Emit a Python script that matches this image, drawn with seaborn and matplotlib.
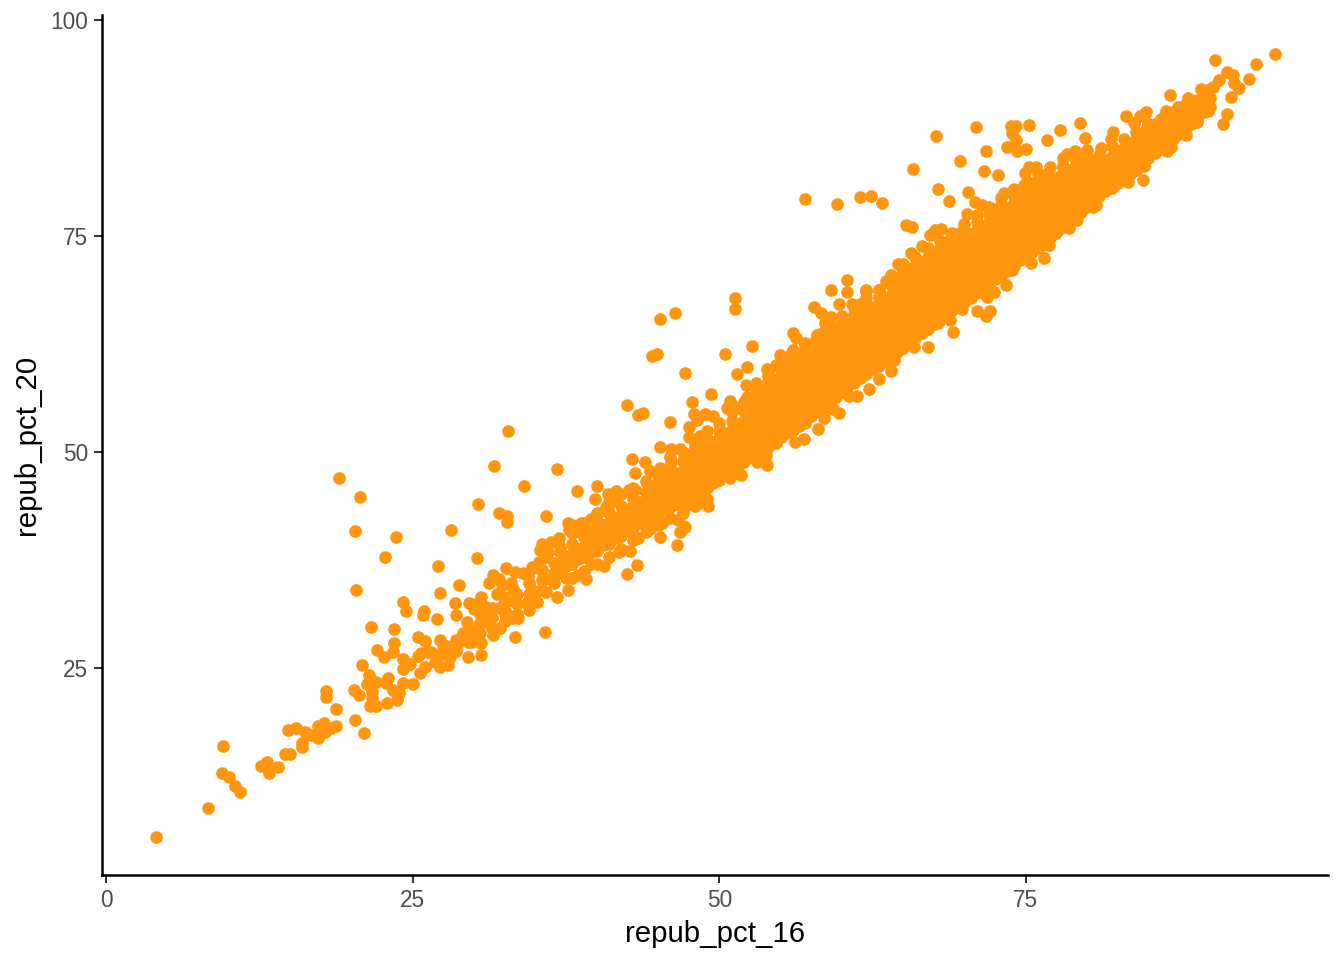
import pandas as pd
import matplotlib
matplotlib.use('Agg')
import matplotlib.pyplot as plt
import seaborn as sns

#------------------------------------------------------------------------------------------------------------------------------
# values, sparse tail first, then the upper/lower fringes, then the dense band

low_16 = [4.08, 8.3, 9.56, 9.4, 10.0, 10.5, 10.87, 12.6, 13.1, 13.25, 14.0, 14.6, 15.0, 14.85, 15.5, 16.0, 16.0, 16.2, 16.7,
          17.3, 17.3, 17.75, 17.8, 18.35, 18.75, 17.9, 17.95, 18.7, 20.3, 21.0, 20.2, 20.65, 20.85, 21.4, 21.3, 22.0, 21.7,
          21.7, 21.55, 22.0, 22.9, 23.7, 23.9, 23.0, 23.4, 22.8, 24.2, 25.0, 22.1, 22.65, 23.4, 23.5, 23.5, 21.6, 20.4,
          22.75, 20.3, 23.6, 20.7, 19.0, 28.1, 30.3, 31.65, 34.1, 32.05, 32.65, 32.65, 35.85, 35.8, 33.3, 30.2, 27.05,
          28.75, 27.25, 28.45, 28.5, 27.0, 25.9, 25.85, 24.2, 24.45, 25.45, 26.0, 27.25, 24.2, 24.2, 24.75, 25.7, 26.2,
          25.55, 26.0, 25.4, 27.2, 27.9, 26.85, 27.2, 28.0, 27.7, 28.7, 29.1, 29.5, 30.6, 29.45, 29.6, 29.85, 30.1, 30.6,
          31.55, 32.15, 31.0, 31.1, 29.6, 30.0, 30.6, 30.3, 31.0, 31.55, 32.0, 31.25, 32.6, 33.35, 32.3, 33.15, 31.85,
          32.4, 33.2, 32.1, 32.5, 33.15, 33.6, 34.45, 34.3, 35.1, 34.7, 34.85, 34.4, 34.8, 35.3, 35.55, 35.4, 35.75, 35.9,
          26.5, 27.5, 28.5, 28.5, 29.5, 29.5, 30.5, 30.5, 30.5, 31.5, 31.5, 31.5, 32.5, 32.5, 32.5, 33.5, 33.5, 33.5,
          34.5, 34.5, 34.5, 35.5, 35.5, 35.5, 36.5, 36.5, 36.5, 37.5, 33.0, 34.0, 36.0, 37.0, 38.0, 39.0, 40.0, 41.0, 38.5, 39.5]
low_20 = [5.47, 8.8, 16.0, 12.8, 12.35, 11.3, 10.7, 13.65, 14.15, 12.8, 13.6, 15.05, 15.0, 17.8, 18.0, 15.9, 16.3, 17.6, 17.2,
          16.85, 18.3, 18.6, 17.6, 18.0, 18.3, 22.3, 21.7, 20.25, 19.0, 17.5, 22.4, 21.85, 25.3, 24.2, 23.2, 23.4, 22.25,
          21.5, 20.6, 20.6, 21.0, 21.3, 22.15, 23.8, 22.45, 23.3, 23.3, 23.2, 27.05, 26.3, 26.9, 27.9, 29.5, 29.7, 34.05,
          37.85, 40.9, 40.2, 44.85, 47.05, 41.0, 44.0, 48.4, 46.05, 43.0, 42.65, 41.85, 42.65, 29.2, 28.6, 37.75, 36.8,
          34.6, 33.65, 32.55, 31.1, 30.7, 31.6, 31.1, 32.6, 31.65, 28.6, 28.1, 28.2, 26.05, 24.85, 25.45, 26.7, 26.9,
          24.4, 25.15, 26.35, 25.15, 25.35, 25.7, 26.5, 26.3, 27.5, 27.85, 29.0, 26.3, 26.5, 30.35, 29.0, 28.0, 29.4, 27.95,
          28.8, 29.6, 30.3, 31.05, 32.55, 31.8, 33.2, 32.5, 32.1, 35.75, 35.3, 34.8, 36.55, 36.15, 34.6, 34.1, 33.6,
          33.2, 32.8, 32.0, 31.3, 30.75, 30.75, 31.7, 32.5, 32.65, 34.05, 33.5, 35.7, 36.6, 37.3, 39.4, 38.7, 35.35, 33.8,
          26.8, 27.2, 27.0, 28.2, 28.0, 29.2, 29.0, 30.2, 31.2, 29.6, 30.8, 32.0, 30.4, 31.6, 32.8, 31.2, 32.4, 33.6,
          32.4, 33.6, 34.8, 34.0, 35.2, 36.4, 34.8, 36.0, 37.2, 35.4, 34.8, 36.0, 38.4, 39.0, 40.6, 41.4, 43.0, 44.0, 35.8, 37.0]

mid_16 = [51.3, 51.3, 46.4, 45.2, 52.7, 50.45, 44.9, 44.5, 47.2, 52.3, 51.45, 52.2, 49.35, 47.8, 42.45, 43.8, 43.4, 45.95,
          50.9, 50.6, 51.3, 47.95, 48.2, 48.8, 49.5, 47.5, 47.5, 48.45, 45.2, 46.05, 46.8, 42.9, 43.95, 43.1, 44.35, 45.2,
          46.1, 36.8, 32.8, 40.0, 38.4, 39.9, 40.9, 41.6, 42.6, 43.15, 44.1, 37.7, 37.75, 38.7, 39.75, 40.8, 38.65, 36.95,
          36.3, 35.5, 35.9, 34.75, 40.6, 42.5, 43.25, 39.1, 37.65, 36.75, 42.7, 41.85, 43.4, 44.35, 45.35, 45.2, 46.55,
          46.8, 47.2, 46.65, 49.1, 48.45, 47.1, 51.8, 50.9, 49.8, 49.1, 53.9, 53.1, 53.85, 54.65, 56.2, 56.9, 58.05, 58.5,
          59.8, 59.3, 60.6, 61.25, 62.25, 63.0, 64.0, 64.25, 59.1, 60.4, 60.4, 59.8, 57.7, 58.3, 59.15, 58.65, 62.0, 63.0,
          60.8, 61.5, 56.05, 56.25, 57.0, 54.95, 55.8, 56.7, 57.85, 58.4, 59.7, 53.9, 54.6, 53.05, 52.25]
mid_20 = [67.8, 66.6, 66.1, 65.4, 62.3, 61.4, 61.3, 61.1, 59.15, 59.85, 59.0, 57.8, 56.7, 55.8, 55.5, 54.55, 54.25, 53.45,
          55.95, 55.05, 55.25, 54.45, 53.7, 54.45, 54.2, 52.85, 51.8, 51.85, 50.6, 50.35, 50.4, 49.2, 48.85, 47.55, 47.85, 48.1,
          48.8, 48.05, 52.45, 46.05, 45.5, 44.6, 45.2, 45.5, 45.6, 45.6, 46.35, 41.75, 41.0, 41.75, 42.3, 43.65, 40.75, 40.0,
          39.6, 38.65, 37.9, 36.75, 36.8, 35.9, 36.9, 35.25, 34.05, 33.2, 38.55, 38.45, 40.0, 41.05, 41.75, 40.2, 39.25,
          40.7, 41.3, 42.15, 43.75, 44.15, 43.5, 47.3, 47.0, 46.6, 46.05, 48.5, 48.8, 49.65, 51.0, 51.2, 51.55, 52.65, 54.0,
          54.55, 55.0, 56.5, 56.5, 57.35, 58.5, 59.35, 60.65, 68.8, 68.5, 69.9, 67.1, 66.85, 66.05, 65.6, 64.95, 68.75, 68.75,
          67.1, 67.2, 63.8, 63.15, 62.4, 61.2, 61.2, 61.2, 63.05, 63.75, 64.35, 59.65, 60.05, 57.35, 56.4]

high_16 = [95.3, 93.75, 90.45, 93.2, 92.4, 91.9, 91.4, 91.75, 91.4, 91.05, 92.0, 90.8, 90.25, 89.3, 89.85, 89.9, 89.85, 88.2,
           89.0, 86.75, 86.45, 87.4, 88.35, 89.0, 88.05, 86.0, 86.85, 86.55, 85.75, 84.8, 84.35, 83.15, 83.85, 84.9, 86.0,
           87.4, 84.55, 84.65, 84.8, 83.3, 81.8, 80.45, 80.7, 78.55, 79.2, 77.6, 76.9, 76.35, 76.5, 75.45, 73.9, 73.4, 72.4,
           71.85, 71.05, 72.1, 71.75, 70.5, 69.8, 68.8, 69.1, 67.8, 66.75, 65.6, 67.05, 65.9,
           70.95, 67.7, 65.8, 69.6, 71.75, 71.6, 72.75, 73.8, 74.2, 75.3, 73.9, 74.2, 73.5, 74.3, 75.0, 76.7, 77.75, 79.4,
           79.8, 78.4, 79.9, 81.1, 82.15, 81.95, 75.8, 75.3, 74.9, 78.0, 77.6, 76.4, 74.85, 75.5, 73.2, 73.9, 67.8, 70.3,
           68.75, 70.85, 71.45, 72.25, 70.2, 62.4, 63.25, 61.5, 57.0, 59.6, 65.25, 65.7, 68.05, 67.6, 67.2, 68.05, 66.55,
           65.65, 64.55, 64.0, 63.6, 63.0, 62.0, 68.9, 69.7]
high_20 = [96.1, 94.9, 95.4, 93.2, 92.1, 93.65, 94.0, 91.1, 89.15, 88.0, 92.7, 93.05, 92.3, 92.0, 91.1, 89.5, 90.0, 90.95,
           90.35, 91.3, 89.5, 90.0, 89.6, 88.25, 86.7, 88.6, 85.35, 84.8, 85.0, 89.4, 88.85, 88.95, 88.05, 87.65, 86.9,
           87.3, 81.45, 83.1, 84.2, 81.3, 80.75, 78.4, 78.6, 75.9, 76.85, 75.7, 74.0, 74.0, 72.5, 71.85, 71.05, 69.3, 68.55,
           68.0, 66.35, 66.35, 65.8, 67.8, 66.6, 65.3, 63.85, 64.9, 64.2, 63.35, 62.2, 62.2,
           87.6, 86.65, 82.75, 83.7, 84.85, 82.55, 82.05, 87.75, 87.7, 87.85, 86.9, 86.1, 85.35, 84.8, 85.05, 86.15, 87.3, 88.05,
           86.4, 84.5, 84.75, 85.2, 87.1, 86.3, 83.0, 83.0, 82.35, 83.15, 81.9, 82.05, 80.9, 81.1, 80.05, 80.15, 80.5, 80.1,
           79.1, 79.0, 78.6, 78.1, 77.6, 79.7, 78.8, 79.55, 79.3, 78.7, 76.3, 76.0, 75.8, 75.7, 75.1, 74.35, 73.8,
           73.0, 71.75, 70.5, 69.8, 68.8, 68.65, 74.95, 75.5]

core_16 = [37, 37, 37, 38, 38, 38, 39, 39, 39, 40, 40, 40, 40, 41, 41, 41, 41, 42, 42, 42, 42, 43, 43, 43, 43, 44, 44, 44, 44,
           45, 45, 45, 45, 45, 46, 46, 46, 46, 46, 47, 47, 47, 47, 47, 48, 48, 48, 48, 48, 48, 49, 49, 49, 49, 49, 49,
           50, 50, 50, 50, 50, 50, 51, 51, 51, 51, 51, 51, 52, 52, 52, 52, 52, 52, 53, 53, 53, 53, 53, 53, 53,
           54, 54, 54, 54, 54, 54, 54, 54, 55, 55, 55, 55, 55, 55, 55, 55, 56, 56, 56, 56, 56, 56, 56, 56,
           57, 57, 57, 57, 57, 57, 57, 57, 58, 58, 58, 58, 58, 58, 58, 58, 59, 59, 59, 59, 59, 59, 59, 59,
           60, 60, 60, 60, 60, 60, 60, 60, 61, 61, 61, 61, 61, 61, 61, 61, 62, 62, 62, 62, 62, 62, 62, 62,
           63, 63, 63, 63, 63, 63, 63, 63, 64, 64, 64, 64, 64, 64, 64, 64, 64, 65, 65, 65, 65, 65, 65, 65, 65, 65,
           66, 66, 66, 66, 66, 66, 66, 66, 67, 67, 67, 67, 67, 67, 67, 67, 68, 68, 68, 68, 68, 68, 68, 68,
           69, 69, 69, 69, 69, 69, 69, 69, 70, 70, 70, 70, 70, 70, 70, 70, 71, 71, 71, 71, 71, 71, 71, 71,
           72, 72, 72, 72, 72, 72, 72, 72, 73, 73, 73, 73, 73, 73, 73, 73, 74, 74, 74, 74, 74, 74, 74, 74,
           75, 75, 75, 75, 75, 75, 75, 75, 76, 76, 76, 76, 76, 76, 76, 76, 77, 77, 77, 77, 77, 77, 77,
           78, 78, 78, 78, 78, 78, 78, 79, 79, 79, 79, 79, 79, 79, 80, 80, 80, 80, 80, 80, 81, 81, 81, 81, 81,
           82, 82, 82, 82, 82, 83, 83, 83, 83, 83, 84, 84, 84, 84, 84, 85, 85, 85, 85, 85, 86, 86, 86, 86,
           87, 87, 87, 87, 88, 88, 88, 88, 89, 89, 89, 90, 90, 90]
core_20 = [36, 37.2, 38.4, 37, 38.2, 39.4, 37.8, 39, 40.2, 38.6, 39.8, 41, 42, 39.4, 40.6, 41.8, 43, 40.3, 41.5, 42.7, 43.8,
           41.2, 42.4, 43.6, 44.6, 42, 43.2, 44.4, 45.4,
           42.8, 44, 45.2, 46.4, 47.2, 43.6, 44.8, 46, 47.2, 48.2, 44.2, 45.4, 46.6, 47.8, 49, 45, 46.2, 47.4, 48.6, 49.8, 50.6,
           45.8, 47, 48.2, 49.4, 50.6, 51.4,
           46.8, 48, 49.2, 50.4, 51.6, 52.6, 47.8, 49, 50.2, 51.4, 52.6, 53.6, 48.8, 50, 51.2, 52.4, 53.6, 54.8,
           50, 51.2, 52.4, 53.6, 54.8, 56, 57,
           50.6, 51.8, 53, 54.2, 55.4, 56.6, 57.8, 58.8, 51.8, 53, 54.2, 55.4, 56.6, 57.8, 59, 60, 52.6, 53.8, 55, 56.2, 57.4, 58.6, 59.8, 61,
           53.4, 54.6, 55.8, 57, 58.2, 59.4, 60.6, 61.8, 54.8, 56, 57.2, 58.4, 59.6, 60.8, 62, 62.8, 55.6, 56.8, 58, 59.2, 60.4, 61.6, 62.8, 63.8,
           57, 58.2, 59.4, 60.6, 61.8, 63, 64.2, 65, 58, 59.2, 60.4, 61.6, 62.8, 64, 65.2, 66, 59, 60.2, 61.4, 62.6, 63.8, 65, 66.2, 67,
           60, 61.2, 62.4, 63.6, 64.8, 66, 67.2, 68, 61, 62.2, 63.4, 64.6, 65.8, 67, 68.2, 69.4, 70, 62, 63.2, 64.4, 65.6, 66.8, 68, 69.2, 70.4, 71,
           63.2, 64.4, 65.6, 66.8, 68, 69.2, 70.4, 71.6, 64.2, 65.4, 66.6, 67.8, 69, 70.2, 71.4, 72.6, 65.4, 66.6, 67.8, 69, 70.2, 71.4, 72.6, 73.6,
           66.4, 67.6, 68.8, 70, 71.2, 72.4, 73.6, 74.6, 67.4, 68.6, 69.8, 71, 72.2, 73.4, 74.6, 75.6, 68.4, 69.6, 70.8, 72, 73.2, 74.4, 75.6, 76.6,
           69.4, 70.6, 71.8, 73, 74.2, 75.4, 76.6, 77.6, 70.4, 71.6, 72.8, 74, 75.2, 76.4, 77.6, 78.6, 71.6, 72.8, 74, 75.2, 76.4, 77.6, 78.8, 79.6,
           72.6, 73.8, 75, 76.2, 77.4, 78.6, 79.8, 80.4, 73.6, 74.8, 76, 77.2, 78.4, 79.6, 80.8, 81.4, 74.8, 76, 77.2, 78.4, 79.6, 80.8, 82,
           76, 77.2, 78.4, 79.6, 80.8, 82, 83, 77, 78.2, 79.4, 80.6, 81.8, 83, 84, 78.4, 79.6, 80.8, 82, 83.2, 84.2, 79.6, 80.8, 82, 83.2, 84.4,
           80.6, 81.8, 83, 84.2, 85.4, 81.6, 82.8, 84, 85.2, 86.2, 82.6, 83.8, 85, 86.2, 87, 84, 85.2, 86.4, 87.4, 88, 85.2, 86.4, 87.6, 88.6,
           86.2, 87.4, 88.6, 89.4, 87.4, 88.6, 89.6, 90.2, 88.6, 89.8, 90.8, 90, 91, 92]

# the same band again, half a point over, the counties between the columns above
between_16 = [37.5, 37.5, 38.5, 38.5, 39.5, 39.5, 39.5, 40.5, 40.5, 40.5, 41.5, 41.5, 41.5, 42.5, 42.5, 42.5, 43.5, 43.5, 43.5,
              44.5, 44.5, 44.5, 44.5, 45.5, 45.5, 45.5, 45.5, 46.5, 46.5, 46.5, 46.5, 47.5, 47.5, 47.5, 47.5, 47.5,
              48.5, 48.5, 48.5, 48.5, 48.5, 49.5, 49.5, 49.5, 49.5, 49.5, 50.5, 50.5, 50.5, 50.5, 50.5, 51.5, 51.5, 51.5, 51.5, 51.5,
              52.5, 52.5, 52.5, 52.5, 52.5, 52.5, 53.5, 53.5, 53.5, 53.5, 53.5, 53.5, 53.5, 54.5, 54.5, 54.5, 54.5, 54.5, 54.5, 54.5,
              55.5, 55.5, 55.5, 55.5, 55.5, 55.5, 55.5, 55.5, 56.5, 56.5, 56.5, 56.5, 56.5, 56.5, 56.5, 56.5,
              57.5, 57.5, 57.5, 57.5, 57.5, 57.5, 57.5, 58.5, 58.5, 58.5, 58.5, 58.5, 58.5, 58.5, 59.5, 59.5, 59.5, 59.5, 59.5, 59.5, 59.5,
              60.5, 60.5, 60.5, 60.5, 60.5, 60.5, 60.5, 61.5, 61.5, 61.5, 61.5, 61.5, 61.5, 61.5, 62.5, 62.5, 62.5, 62.5, 62.5, 62.5, 62.5,
              63.5, 63.5, 63.5, 63.5, 63.5, 63.5, 63.5, 64.5, 64.5, 64.5, 64.5, 64.5, 64.5, 64.5, 64.5, 65.5, 65.5, 65.5, 65.5, 65.5, 65.5, 65.5, 65.5,
              66.5, 66.5, 66.5, 66.5, 66.5, 66.5, 66.5, 66.5, 67.5, 67.5, 67.5, 67.5, 67.5, 67.5, 67.5, 67.5,
              68.5, 68.5, 68.5, 68.5, 68.5, 68.5, 68.5, 69.5, 69.5, 69.5, 69.5, 69.5, 69.5, 69.5, 70.5, 70.5, 70.5, 70.5, 70.5, 70.5, 70.5,
              71.5, 71.5, 71.5, 71.5, 71.5, 71.5, 71.5, 72.5, 72.5, 72.5, 72.5, 72.5, 72.5, 72.5, 73.5, 73.5, 73.5, 73.5, 73.5, 73.5, 73.5,
              74.5, 74.5, 74.5, 74.5, 74.5, 74.5, 74.5, 75.5, 75.5, 75.5, 75.5, 75.5, 75.5, 75.5, 76.5, 76.5, 76.5, 76.5, 76.5, 76.5, 76.5,
              77.5, 77.5, 77.5, 77.5, 77.5, 77.5, 78.5, 78.5, 78.5, 78.5, 78.5, 78.5, 79.5, 79.5, 79.5, 79.5, 79.5, 79.5,
              80.5, 80.5, 80.5, 80.5, 80.5, 81.5, 81.5, 81.5, 81.5, 82.5, 82.5, 82.5, 82.5, 83.5, 83.5, 83.5, 83.5,
              84.5, 84.5, 84.5, 84.5, 85.5, 85.5, 85.5, 85.5, 86.5, 86.5, 86.5, 87.5, 87.5, 87.5, 88.5, 88.5, 88.5, 89.5, 89.5, 89.5]
between_20 = [36.8, 38, 37.6, 38.8, 38.4, 39.6, 40.8, 39.2, 40.4, 41.6, 40, 41.2, 42.4, 41, 42.2, 43.4, 41.8, 43, 44.2,
              42.6, 43.8, 45, 46, 43.4, 44.6, 45.8, 47, 44, 45.2, 46.4, 47.6, 44.8, 46, 47.2, 48.4, 49.6,
              45.6, 46.8, 48, 49.2, 50.4, 46.4, 47.6, 48.8, 50, 51.2, 47.4, 48.6, 49.8, 51, 52.2, 48.4, 49.6, 50.8, 52, 53.2,
              49.4, 50.6, 51.8, 53, 54.2, 55.4, 50.4, 51.6, 52.8, 54, 55.2, 56.4, 57.6, 51.2, 52.4, 53.6, 54.8, 56, 57.2, 58.4,
              52.2, 53.4, 54.6, 55.8, 57, 58.2, 59.4, 60.4, 53, 54.2, 55.4, 56.6, 57.8, 59, 60.2, 61.4,
              54.2, 55.4, 56.6, 57.8, 59, 60.2, 61.4, 55.2, 56.4, 57.6, 58.8, 60, 61.2, 62.4, 56.4, 57.6, 58.8, 60, 61.2, 62.4, 63.6,
              57.6, 58.8, 60, 61.2, 62.4, 63.6, 64.8, 58.6, 59.8, 61, 62.2, 63.4, 64.6, 65.8, 59.6, 60.8, 62, 63.2, 64.4, 65.6, 66.8,
              60.6, 61.8, 63, 64.2, 65.4, 66.6, 67.8, 61.6, 62.8, 64, 65.2, 66.4, 67.6, 68.8, 70, 62.6, 63.8, 65, 66.2, 67.4, 68.6, 69.8, 71,
              63.8, 65, 66.2, 67.4, 68.6, 69.8, 71, 72, 64.8, 66, 67.2, 68.4, 69.6, 70.8, 72, 73,
              66, 67.2, 68.4, 69.6, 70.8, 72, 73.2, 67, 68.2, 69.4, 70.6, 71.8, 73, 74.2, 68, 69.2, 70.4, 71.6, 72.8, 74, 75.2,
              69, 70.2, 71.4, 72.6, 73.8, 75, 76.2, 70, 71.2, 72.4, 73.6, 74.8, 76, 77.2, 71, 72.2, 73.4, 74.6, 75.8, 77, 78.2,
              72.2, 73.4, 74.6, 75.8, 77, 78.2, 79.4, 73.2, 74.4, 75.6, 76.8, 78, 79.2, 80.4, 74.2, 75.4, 76.6, 77.8, 79, 80.2, 81.4,
              75.4, 76.6, 77.8, 79, 80.2, 81.4, 76.6, 77.8, 79, 80.2, 81.4, 82.6, 77.8, 79, 80.2, 81.4, 82.6, 83.6,
              79, 80.2, 81.4, 82.6, 83.8, 80.2, 81.4, 82.6, 83.8, 81.2, 82.4, 83.6, 84.8, 82.2, 83.4, 84.6, 85.8,
              83.4, 84.6, 85.8, 86.8, 84.6, 85.8, 87, 88, 85.8, 87, 88.2, 86.8, 88, 89.2, 88, 89.2, 90.2, 89.4, 90.4, 91.4]

# edge of the band, it is thicker in the picture than the columns alone
upper_16 = [38, 39, 39.5, 40, 41, 41.5, 42, 43, 44, 45, 46, 47, 48, 49, 50, 51, 52, 53, 54, 55, 56, 57, 58, 59, 60, 61, 62, 63,
            64, 65, 66, 67, 68, 69, 70, 71, 72, 73, 74, 75, 76, 77, 78, 79, 80]
upper_20 = [41.6, 41.8, 42.2, 42.8, 44.2, 44.8, 45.2, 45.8, 46.6, 47.6, 49.4, 50, 51, 52.4, 53.4, 54.6, 55.8, 58, 59.4, 60.8, 61.8,
            62.6, 63.6, 64.8, 65.8, 66.8, 67.8, 68.8, 70.4, 71.8, 72.6, 73.6, 74.4, 75.4, 76.4, 77.4, 78.4, 79.4, 80.4, 81.2,
            82.2, 83, 84, 84.8, 85]
lower_16 = [38, 39, 40, 41, 42, 43, 44, 45, 46, 47, 48, 49]
lower_20 = [35.4, 36.2, 37, 37.8, 38.8, 39.8, 40.8, 41.6, 42.4, 43, 43.8, 44.6]

x_ticks = [0, 25, 50, 75]
y_ticks = [25, 50, 75, 100]

#------------------------------------------------------------------------------------------------------------------------------

sns.set_theme(style='ticks')
plt.rcParams['font.family'] = ['Liberation Sans', 'DejaVu Sans']

df = pd.DataFrame({'repub_pct_16': low_16 + mid_16 + high_16 + core_16 + between_16 + upper_16 + lower_16,
                   'repub_pct_20': low_20 + mid_20 + high_20 + core_20 + between_20 + upper_20 + lower_20})

fig = plt.figure(figsize=(1344 / 144, 960 / 144), dpi=144)
ax = fig.add_axes([102 / 1344, 1 - 875 / 960, (1328 - 102) / 1344, (875 - 15) / 960])

sns.scatterplot(data=df, x='repub_pct_16', y='repub_pct_20', color='#FF960D', s=40, linewidth=0, ax=ax, clip_on=False)

ax.set_xlim(-0.35, 99.65)
ax.set_ylim(1.04, 100.6)
ax.set_xticks(x_ticks)
ax.set_yticks(y_ticks)
ax.tick_params(axis='both', labelsize=11.3, labelcolor='#4D4D4D', color='#333333', length=4, width=1, pad=2.8)
ax.set_xlabel('repub_pct_16', fontsize=14.7, color='black', labelpad=4)
ax.set_ylabel('repub_pct_20', fontsize=14.7, color='black', labelpad=5)
sns.despine(ax=ax)
for side in ['left', 'bottom']:
    ax.spines[side].set_linewidth(1.25)
    ax.spines[side].set_color('black')

fig.savefig('out.png', dpi=144)
